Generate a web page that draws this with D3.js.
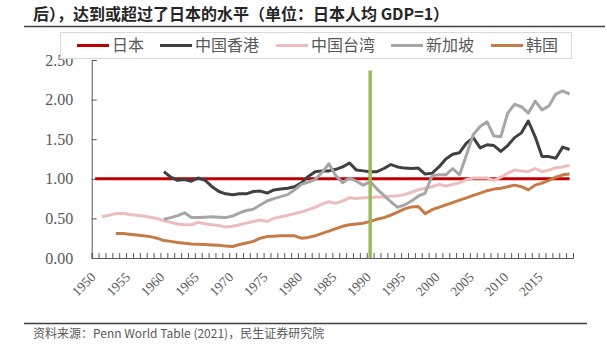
<!DOCTYPE html>
<html>
<head>
<meta charset="utf-8">
<script src="https://cdn.jsdelivr.net/npm/d3@7"></script>
<style>
  body { margin: 0; background: #fff; }
  svg { display: block; }
</style>
</head>
<body>
<div class="chart"></div>
<script>
// series values, unit: Japan GDP per capita = 1
let legendNames = ["日本", "中国香港", "中国台湾", "新加坡", "韩国"];
let colors = ["#C00000", "#404040", "#EDBCBC", "#A6A6A6", "#C47B45"];
let startYears = [1950, 1960, 1951, 1960, 1953];

let japan = [
  1, 1, 1, 1, 1, 1, 1, 1, 1, 1,
  1, 1, 1, 1, 1, 1, 1, 1, 1, 1,
  1, 1, 1, 1, 1, 1, 1, 1, 1, 1,
  1, 1, 1, 1, 1, 1, 1, 1, 1, 1,
  1, 1, 1, 1, 1, 1, 1, 1, 1, 1,
  1, 1, 1, 1, 1, 1, 1, 1, 1, 1,
  1, 1, 1, 1, 1, 1, 1, 1, 1, 1
];
let hongkong = [
  1.09, 1.02, 0.98, 0.99, 0.97, 1.01, 0.98, 0.90, 0.84, 0.81,
  0.80, 0.81, 0.81, 0.84, 0.845, 0.82, 0.86, 0.87, 0.88, 0.90,
  0.95, 1.03, 1.09, 1.10, 1.10, 1.12, 1.15, 1.20, 1.11, 1.10,
  1.09, 1.09, 1.13, 1.18, 1.15, 1.135, 1.13, 1.135, 1.06, 1.07,
  1.15, 1.25, 1.31, 1.33, 1.45, 1.52, 1.39, 1.43, 1.42, 1.345,
  1.42, 1.52, 1.58, 1.73, 1.53, 1.28, 1.28, 1.26, 1.40, 1.37
];
let taiwan = [
  0.52, 0.54, 0.56, 0.565, 0.55, 0.54, 0.53, 0.515, 0.50,
  0.47, 0.45, 0.43, 0.42, 0.42, 0.45, 0.43, 0.42, 0.41, 0.39,
  0.40, 0.42, 0.44, 0.46, 0.48, 0.46, 0.50, 0.52, 0.54, 0.56,
  0.58, 0.61, 0.64, 0.68, 0.71, 0.69, 0.72, 0.76, 0.75, 0.76,
  0.76, 0.77, 0.77, 0.78, 0.785, 0.80, 0.83, 0.86, 0.88, 0.90,
  0.93, 0.91, 0.93, 0.95, 0.99, 1.01, 1.01, 1.01, 0.98, 1.02,
  1.07, 1.11, 1.10, 1.09, 1.13, 1.09, 1.11, 1.14, 1.15, 1.17
];
let singapore = [
  0.49, 0.51, 0.535, 0.57, 0.51, 0.51, 0.515, 0.52, 0.515, 0.51,
  0.53, 0.57, 0.60, 0.615, 0.67, 0.72, 0.75, 0.775, 0.80, 0.86,
  0.93, 0.96, 0.99, 1.08, 1.19, 1.04, 0.95, 1.01, 0.97, 0.92,
  0.965, 0.87, 0.79, 0.71, 0.64, 0.67, 0.72, 0.78, 0.82, 1.04,
  1.05, 1.05, 1.13, 1.05, 1.30, 1.56, 1.66, 1.72, 1.54, 1.53,
  1.83, 1.94, 1.91, 1.83, 1.98, 1.87, 1.92, 2.07, 2.11, 2.07
];
let korea = [
  0.31, 0.31, 0.30, 0.29, 0.28, 0.27, 0.25,
  0.22, 0.21, 0.195, 0.185, 0.177, 0.175, 0.17, 0.165, 0.16, 0.15,
  0.145, 0.17, 0.19, 0.21, 0.25, 0.27, 0.275, 0.28, 0.28, 0.28,
  0.25, 0.26, 0.28, 0.31, 0.34, 0.37, 0.40, 0.42, 0.43, 0.44,
  0.46, 0.49, 0.51, 0.54, 0.58, 0.62, 0.645, 0.65, 0.56, 0.61,
  0.64, 0.67, 0.70, 0.73, 0.76, 0.79, 0.82, 0.85, 0.87, 0.88,
  0.90, 0.92, 0.90, 0.86, 0.92, 0.945, 0.98, 1.02, 1.05, 1.06
];

let yTicks = [0, 0.5, 1, 1.5, 2, 2.5];
let xLabels = [1950, 1955, 1960, 1965, 1970, 1975, 1980, 1985, 1990, 1995, 2000, 2005, 2010, 2015];
let markYear = 1990;

let title = "后），达到或超过了日本的水平（单位：日本人均 GDP=1）";
let source = "资料来源：Penn World Table (2021)，民生证券研究院";

let width = 607;
let height = 344;

let series = [japan, hongkong, taiwan, singapore, korea].map((vals, i) => {
  return {
    name: legendNames[i],
    color: colors[i],
    values: vals.map((v, j) => ({ year: startYears[i] + j, value: v }))
  };
});

let x = d3.scaleLinear().domain([1950, 2020]).range([91.7, 573]);
let y = d3.scaleLinear().domain([0, 2.5]).range([258, 60]);

let svg = d3.select(".chart").append("svg")
  .attr("width", width)
  .attr("height", height);

let cjk = "'Noto Sans CJK SC', 'Noto Sans', sans-serif";
let serif = "'Liberation Serif', 'DejaVu Serif', serif";

// title + rule
svg.append("text")
  .attr("x", 33)
  .attr("y", 20)
  .attr("font-family", cjk)
  .attr("font-size", 16)
  .attr("font-weight", 700)
  .attr("fill", "#262626")
  .text(title);

svg.append("line")
  .attr("x1", 24).attr("x2", 605)
  .attr("y1", 26.5).attr("y2", 26.5)
  .attr("stroke", "#404040")
  .attr("stroke-width", 1.5);

// y axis, ticks pointing inward
let yAxis = svg.append("g")
  .attr("transform", "translate(" + x.range()[0] + ",0)")
  .call(d3.axisLeft(y).tickValues(yTicks).tickSize(-5).tickPadding(18.4).tickFormat(d3.format(".2f")));
yAxis.select(".domain").attr("stroke", "#595959");
yAxis.selectAll(".tick line").attr("stroke", "#595959");
yAxis.selectAll("text")
  .attr("font-family", serif)
  .attr("font-size", 16)
  .attr("fill", "#595959");

// x axis: a tick at every year boundary
let xAxis = svg.append("g")
  .attr("transform", "translate(0," + y(0) + ")")
  .call(d3.axisBottom(x).tickValues(d3.range(1950, 2021)).tickSize(-5).tickFormat(""));
xAxis.select(".domain").attr("stroke", "#595959");
xAxis.selectAll(".tick line").attr("stroke", "#595959");

// labels in the middle of each year slot
let xLab = svg.append("g")
  .attr("transform", "translate(0," + y(0) + ")")
  .call(d3.axisBottom(x).tickValues(xLabels.map(d => d + 0.5)).tickSize(0).tickFormat(d => Math.floor(d)));
xLab.select(".domain").remove();
xLab.selectAll("text")
  .attr("x", 0)
  .attr("y", 0)
  .attr("dy", 0)
  .attr("text-anchor", "end")
  .attr("transform", "translate(1,20) rotate(-45)")
  .attr("font-family", serif)
  .attr("font-size", 13.5)
  .attr("fill", "#595959");

// lines
let line = d3.line()
  .x(d => x(d.year + 0.5))
  .y(d => y(d.value));

svg.append("g").selectAll("path")
  .data(series)
  .enter()
  .append("path")
  .attr("d", d => line(d.values))
  .attr("fill", "none")
  .attr("stroke", d => d.color)
  .attr("stroke-width", 3)
  .attr("stroke-linejoin", "round");

// 1990 marker
svg.append("line")
  .attr("x1", x(markYear + 0.5)).attr("x2", x(markYear + 0.5))
  .attr("y1", 70.5).attr("y2", y(0))
  .attr("stroke", "#9BBB59")
  .attr("stroke-width", 3.5);

// legend box sits over the top of the plot
let legend = svg.append("g");
legend.append("rect")
  .attr("x", 60.5).attr("y", 32.5)
  .attr("width", 511).attr("height", 26)
  .attr("fill", "#fff")
  .attr("stroke", "#D9D9D9");

let legendX = [77, 160, 276, 391, 491];
let item = legend.selectAll(".item")
  .data(series)
  .enter()
  .append("g")
  .attr("transform", (d, i) => "translate(" + legendX[i] + ",45.5)");
item.append("line")
  .attr("x1", 0).attr("x2", 32)
  .attr("stroke", d => d.color)
  .attr("stroke-width", 3);
item.append("text")
  .attr("x", 35)
  .attr("dy", "0.36em")
  .attr("font-family", cjk)
  .attr("font-size", 16)
  .attr("fill", "#595959")
  .text(d => d.name);

// source
svg.append("line")
  .attr("x1", 24).attr("x2", 587)
  .attr("y1", 323.5).attr("y2", 323.5)
  .attr("stroke", "#404040")
  .attr("stroke-width", 1.5);

svg.append("text")
  .attr("x", 33)
  .attr("y", 338)
  .attr("font-family", cjk)
  .attr("font-size", 12)
  .attr("fill", "#595959")
  .text(source);
</script>
</body>
</html>
